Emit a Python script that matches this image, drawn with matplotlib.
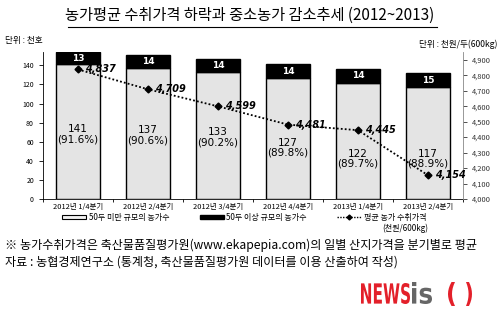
import numpy as np
import matplotlib.pyplot as plt
from matplotlib.ticker import FuncFormatter
from matplotlib.lines import Line2D
from matplotlib.patches import Patch, PathPatch
from matplotlib.textpath import TextPath
from matplotlib.font_manager import FontProperties
from matplotlib.transforms import Affine2D

plt.rcParams['font.family'] = ['Noto Sans CJK KR', 'DejaVu Sans']

quarters = ["2012년 1/4분기", "2012년 2/4분기", "2012년 3/4분기",
            "2012년 4/4분기", "2013년 1/4분기", "2013년 2/4분기"]
small_farms = [141, 137, 133, 127, 122, 117]
small_share = ["91.6%", "90.6%", "90.2%", "89.8%", "89.7%", "88.9%"]
large_farms = [13, 14, 14, 14, 14, 15]
price = [4837, 4709, 4599, 4481, 4445, 4154]

# where the in-bar labels sit (farm count units)
label_y = [68, 67, 65, 54, 42, 42]

W, H = 500, 328
fig = plt.figure(figsize=(W / 100, H / 100), dpi=100)
ax = fig.add_axes([0.086, 0.393, 0.840, 0.4485])
x = np.arange(len(quarters))

ax.bar(x, small_farms, width=0.64, color="#e4e4e4", edgecolor="black", linewidth=1.0)
ax.bar(x, large_farms, width=0.64, bottom=small_farms, color="black",
       edgecolor="black", linewidth=1.0)
for i in x:
    ax.text(i, small_farms[i] + large_farms[i] / 2, str(large_farms[i]), color="white",
            ha="center", va="center", fontsize=6.5, fontweight="bold", family="DejaVu Sans")
    ax.text(i, label_y[i], f"{small_farms[i]}\n({small_share[i]})", ha="center",
            va="center", fontsize=7.5, linespacing=1.0, family="DejaVu Sans")

ax.set_xlim(-0.5, len(quarters) - 0.5)
ax.set_ylim(0, 154)
ax.set_yticks(range(0, 141, 20))
ax.set_xticks(x)
ax.set_xticklabels(quarters, fontsize=5.4)
ax.set_xticks(np.arange(-0.5, len(quarters), 1), minor=True)
ax.tick_params(axis="x", which="major", length=0, pad=3)
ax.tick_params(axis="x", which="minor", length=2.5, direction="out", width=0.6)
ax.tick_params(axis="y", labelsize=5, length=3, width=0.6)
for s in ["top", "right"]:
    ax.spines[s].set_visible(False)
ax.spines["left"].set_linewidth(0.6)
ax.spines["bottom"].set_linewidth(0.6)

ax2 = ax.twinx()
ax2.plot(x, price, linestyle=(0, (1, 1.2)), color="black", linewidth=1.3,
         marker="D", markersize=3.5)
for i in x:
    ax2.text(i + 0.1, price[i], f"{price[i]:,}", ha="left", va="center",
             fontsize=7, fontstyle="italic", fontweight="bold", family="DejaVu Sans")
ax2.set_ylim(4000, 4950)
ax2.set_yticks(range(4000, 4901, 100))
ax2.yaxis.set_major_formatter(FuncFormatter(lambda v, p: f"{int(v):,}"))
ax2.tick_params(axis="y", labelsize=5.4, length=3, width=0.6, colors="#333333")
for s in ["top", "left", "bottom"]:
    ax2.spines[s].set_visible(False)
ax2.spines["right"].set_linewidth(0.6)
ax2.spines["right"].set_color("#888888")

handles = [Patch(facecolor="#f2f2f2", edgecolor="black", linewidth=0.8),
           Patch(facecolor="black", edgecolor="black"),
           Line2D([0], [0], linestyle=(0, (1, 1)), color="black", linewidth=1,
                  marker="D", markersize=2.5)]
labels = ["50두 미만 규모의 농가수", "50두 이상 규모의 농가수", "평균 농가 수취가격"]
fig.legend(handles, labels, loc="center left", bbox_to_anchor=(0.124, 0.338), ncol=3,
           frameon=False, fontsize=5.8, handlelength=3.0, handleheight=0.45,
           columnspacing=3.8, handletextpad=0.3, borderaxespad=0, borderpad=0)
fig.text(0.81, 0.305, "(천원/600kg)", fontsize=5.8, ha="center", va="center")

fig.text(0.5, 0.954, "농가평균 수취가격 하락과 중소농가 감소추세 (2012~2013)",
         ha="center", va="center", fontsize=11)
fig.add_artist(Line2D([0.136, 0.874], [0.918, 0.918], color="black", linewidth=0.8,
                      transform=fig.transFigure))
fig.text(0.01, 0.878, "단위 : 천호", fontsize=6.2, ha="left", va="center")
fig.text(0.995, 0.866, "단위 : 천원/두(600kg)", fontsize=6.2, ha="right", va="center")

fig.text(0.01, 0.253, "※ 농가수취가격은 축산물품질평가원(www.ekapepia.com)의 일별 산지가격을 분기별로 평균",
         fontsize=8.7, ha="left", va="center")
fig.text(0.01, 0.200, "자료 : 농협경제연구소 (통계청, 축산물품질평가원 데이터를 이용 산출하여 작성)",
         fontsize=8.7, ha="left", va="center")


def logo_text(s, x0, x1, y_top, y_bot, color):
    # squeeze a bold glyph run into a pixel box (y measured from the top)
    tp = TextPath((0, 0), s, size=10, prop=FontProperties(family="DejaVu Sans", weight="bold"))
    ext = tp.get_extents()
    sx = (x1 - x0) / ext.width
    sy = (y_bot - y_top) / ext.height
    tr = (Affine2D().translate(-ext.x0, -ext.y0).scale(sx, sy)
          .translate(x0, H - y_bot).scale(1 / W, 1 / H) + fig.transFigure)
    fig.add_artist(PathPatch(tp, facecolor=color, edgecolor="none", transform=tr))


logo_text("NEWS", 361, 410, 283, 304, "#e3202a")
logo_text("is", 412, 432, 282, 304, "#666666")
logo_text("(", 448, 455, 282, 306, "#e3202a")
logo_text(")", 466, 472, 282, 306, "#e3202a")

fig.savefig("out.png", dpi=100)
